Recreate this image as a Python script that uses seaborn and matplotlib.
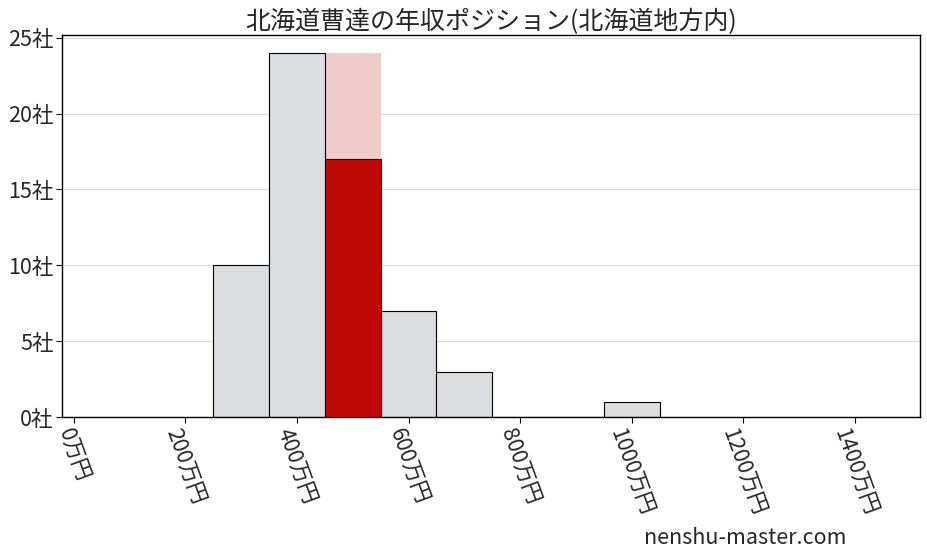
import matplotlib
matplotlib.use("Agg")
import matplotlib.pyplot as plt
import matplotlib.transforms as mtransforms
import seaborn as sns
import pandas as pd

# data
bin_centers = [300, 400, 500, 600, 700, 1000]
counts = [10, 24, 17, 7, 3, 1]
highlight_center = 500
highlight_count = 17
highlight_total = 24
xticks = [0, 200, 400, 600, 800, 1000, 1200, 1400]
xtick_labels = [f"{v}万円" for v in xticks]
yticks = [0, 5, 10, 15, 20, 25]
ytick_labels = [f"{v}社" for v in yticks]
title = "北海道曹達の年収ポジション(北海道地方内)"
watermark = "nenshu-master.com"

sns.set_theme(style="white")
plt.rcParams["font.family"] = ["Noto Sans CJK JP", "DejaVu Sans"]

fig = plt.figure(figsize=(9.28, 5.57), dpi=100)
ax = fig.add_axes([0.0668, 0.2508, 0.991 - 0.0668, 0.9366 - 0.2508])

edges = list(range(250, 1100, 100))
df = pd.DataFrame({"x": bin_centers, "w": counts})

# pink background for highlighted bin
sns.histplot(x=[highlight_center], weights=[highlight_total], bins=[450, 550],
             color="#f0cbcb", alpha=1, edgecolor="none", linewidth=0, ax=ax, zorder=1)
# gray bars
others = df[df.x != highlight_center]
sns.histplot(data=others, x="x", weights="w", bins=edges,
             color="#dcdde0", alpha=1, edgecolor="black", linewidth=0.8, ax=ax, zorder=2)
# red highlighted bar
sns.histplot(x=[highlight_center], weights=[highlight_count], bins=[450, 550],
             color="#c00a0a", alpha=1, edgecolor="black", linewidth=0.8, ax=ax, zorder=3)

ax.set_xlim(-21, 1516)
ax.set_ylim(0, 25.15)
ax.set_xlabel("")
ax.set_ylabel("")
ax.set_xticks(xticks)
ax.set_xticklabels(xtick_labels, rotation=-70, ha="center", va="top",
                   rotation_mode="default", fontsize=15.5)
offset = mtransforms.ScaledTranslation(4 / 100, 0, fig.dpi_scale_trans)
for lbl in ax.get_xticklabels():
    lbl.set_transform(lbl.get_transform() + offset)
ax.set_yticks(yticks)
ax.set_yticklabels(ytick_labels, fontsize=15.5)
ax.yaxis.grid(True, color="#d8d8d8", linewidth=0.8)
ax.set_axisbelow(True)
ax.tick_params(axis="both", which="both", length=4, width=0.8, color="black",
               bottom=True, left=True, pad=2)
for s in ax.spines.values():
    s.set_color("black")
    s.set_linewidth(1.0)

ax.set_title(title, fontsize=18, pad=4)
fig.text(0.803, 0.035, watermark, fontsize=15.5, ha="center", va="center")

fig.savefig("out.png", dpi=100)
